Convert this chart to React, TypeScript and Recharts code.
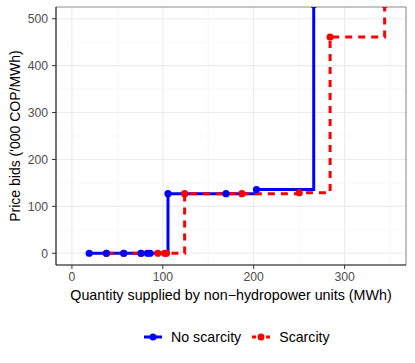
import React from 'react';
import {
  LineChart, Line, XAxis, YAxis, CartesianGrid, Legend, ReferenceLine,
} from 'recharts';

// Step curves: x = MWh supplied, y = price bid ('000 COP/MWh)
const noScarcityQty = [19, 38, 57, 76, 83, 86, 105.7, 169.5, 203, 266];
const noScarcityBid = [0, 0, 0, 0, 0, 0, 127, 127, 136, 530];
const scarcityQty = [38, 57, 76, 94.5, 102, 104, 124, 187, 250, 284, 344];
const scarcityBid = [0, 0, 0, 0, 0, 0, 127, 127, 129, 461, 530];

const xTicks = [0, 100, 200, 300];
const xMinor = [50, 150, 250, 350];
const yTicks = [0, 100, 200, 300, 400, 500];
const yMinor = [50, 150, 250, 350, 450];

const BLUE = '#0000FF';
const RED = '#FF0000';
const FONT = '"Liberation Sans", Arial, Helvetica, sans-serif';

const noScarcity = noScarcityQty.map((q, i) => ({ q, bid: noScarcityBid[i] }));
const scarcity = scarcityQty.map((q, i) => ({ q, bid: scarcityBid[i] }));

function LegendKey({ color, dashed }: { color: string; dashed?: boolean }) {
  return (
    <svg width={18} height={10} style={{ display: 'block' }}>
      <line x1={0} y1={5} x2={18} y2={5} stroke={color} strokeWidth={3}
        strokeDasharray={dashed ? '4 3' : undefined} />
      <circle cx={9} cy={5} r={3.5} fill={color} />
    </svg>
  );
}

function ChartLegend() {
  return (
    <div style={{
      display: 'flex', alignItems: 'center', paddingLeft: 144,
      height: 24, fontFamily: FONT, fontSize: 14.2, color: '#000',
    }}>
      <LegendKey color={BLUE} />
      <span style={{ marginLeft: 9 }}>No scarcity</span>
      <div style={{ marginLeft: 11 }}>
        <LegendKey color={RED} dashed />
      </div>
      <span style={{ marginLeft: 9 }}>Scarcity</span>
    </div>
  );
}

export default function App() {
  const tick = { fill: '#4D4D4D', fontSize: 12.2, fontFamily: FONT };
  return (
    <div style={{ position: 'absolute', left: 0, top: 0, width: 415, height: 363, background: '#fff' }}>
      <LineChart width={415} height={363} margin={{ top: 7, right: 9, left: 0, bottom: 34 }}>
        {/* minor grid */}
        <CartesianGrid stroke="#F2F2F2" strokeWidth={0.6}
          horizontalValues={yMinor} verticalValues={xMinor} />
        {/* major grid */}
        <CartesianGrid stroke="#EBEBEB" strokeWidth={1.1}
          horizontalValues={yTicks} verticalValues={xTicks} />
        <XAxis
          type="number" dataKey="q" domain={[-17.5, 367.5]} ticks={xTicks}
          allowDataOverflow height={40} tick={tick} tickSize={4} tickMargin={3}
          axisLine={{ stroke: '#000', strokeWidth: 1.1 }} tickLine={{ stroke: '#333' }}
          label={{
            content: (p: any) => (
              <text x={p.viewBox.x + p.viewBox.width / 2} y={p.viewBox.y + 34.5}
                textAnchor="middle" fontSize={14.3} fontFamily={FONT} fill="#000">
                Quantity supplied by non−hydropower units (MWh)
              </text>
            ),
          }}
        />
        <YAxis
          type="number" dataKey="bid" domain={[-25, 525]} ticks={yTicks}
          allowDataOverflow width={56} tick={tick} tickSize={4} tickMargin={4}
          axisLine={{ stroke: '#000', strokeWidth: 1.1 }} tickLine={{ stroke: '#333' }}
          label={{
            content: (p: any) => (
              <text transform={`translate(19.5, ${p.viewBox.y + p.viewBox.height / 2}) rotate(-90)`}
                textAnchor="middle" fontSize={14} fontFamily={FONT} fill="#000">
                Price bids ('000 COP/MWh)
              </text>
            ),
          }}
        />
        {/* panel border top / right */}
        <ReferenceLine y={525} stroke="#8C8C8C" strokeWidth={1.1} />
        <ReferenceLine x={367.5} stroke="#8C8C8C" strokeWidth={1.1} />

        <Line data={noScarcity} dataKey="bid" type="stepAfter" stroke={BLUE} strokeWidth={3}
          dot={false} isAnimationActive={false} name="No scarcity" legendType="none" />
        <Line data={scarcity} dataKey="bid" type="stepAfter" stroke={RED} strokeWidth={3}
          strokeDasharray="7 6" dot={false} isAnimationActive={false} name="Scarcity" legendType="none" />
        <Line data={scarcity} dataKey="bid" stroke="none" isAnimationActive={false}
          dot={{ r: 3.6, fill: RED, stroke: RED, strokeWidth: 0 }} activeDot={false} legendType="none" />
        <Line data={noScarcity} dataKey="bid" stroke="none" isAnimationActive={false}
          dot={{ r: 3.6, fill: BLUE, stroke: BLUE, strokeWidth: 0 }} activeDot={false} legendType="none" />

        <Legend verticalAlign="bottom" content={() => <ChartLegend />}
          wrapperStyle={{ top: 325, left: 0, width: 415, height: 24 }} />
      </LineChart>
    </div>
  );
}
